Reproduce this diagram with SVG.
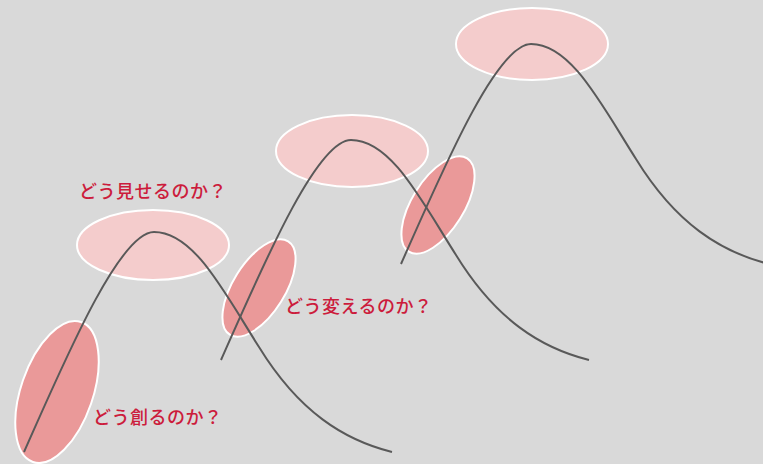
<svg xmlns="http://www.w3.org/2000/svg" width="763" height="464" viewBox="0 0 763 464">
<defs>
<style>
.bg{fill:#d9d9d9}
.light{fill:#f4cccc;stroke:#ffffff;stroke-width:2}
.dark{fill:#ea9999;stroke:#ffffff;stroke-width:2}
.curve{fill:none;stroke:#595959;stroke-width:2}
.label{font-family:"Noto Sans CJK JP","Noto Sans",sans-serif;font-size:18px;fill:#cc1c3c;font-weight:500;letter-spacing:0.5px}
</style>
<path id="wave" d="M0,0 C40,-90 95,-220 130,-220 C170,-220 200,-160 235,-105 C275,-40 320,-12 368,0"/>
</defs>
<rect class="bg" x="0" y="0" width="763" height="464"/>
<g id="stage1">
<ellipse id="stage1-create" class="dark" cx="0" cy="0" rx="36" ry="74" transform="translate(57,392) rotate(19)"/>
<ellipse id="stage1-show" class="light" cx="153" cy="245" rx="76" ry="35"/>
</g>
<g id="stage2">
<ellipse id="stage2-change" class="dark" cx="0" cy="0" rx="26" ry="55" transform="translate(259,288) rotate(32)"/>
<ellipse id="stage2-show" class="light" cx="352" cy="151" rx="76" ry="36"/>
</g>
<g id="stage3">
<ellipse id="stage3-change" class="dark" cx="0" cy="0" rx="26" ry="55" transform="translate(438,205) rotate(32)"/>
<ellipse id="stage3-show" class="light" cx="532" cy="44" rx="76" ry="36"/>
</g>
<g id="connectors">
<use href="#wave" class="curve" transform="translate(24,452)"/>
<use href="#wave" class="curve" transform="translate(221,360)"/>
<use href="#wave" class="curve" transform="translate(401,264)"/>
</g>
<g id="labels">
<text class="label" x="79" y="198">どう見せるのか？</text>
<text class="label" x="285" y="313">どう変えるのか？</text>
<text class="label" x="93" y="424">どう創るのか？</text>
</g>
</svg>
